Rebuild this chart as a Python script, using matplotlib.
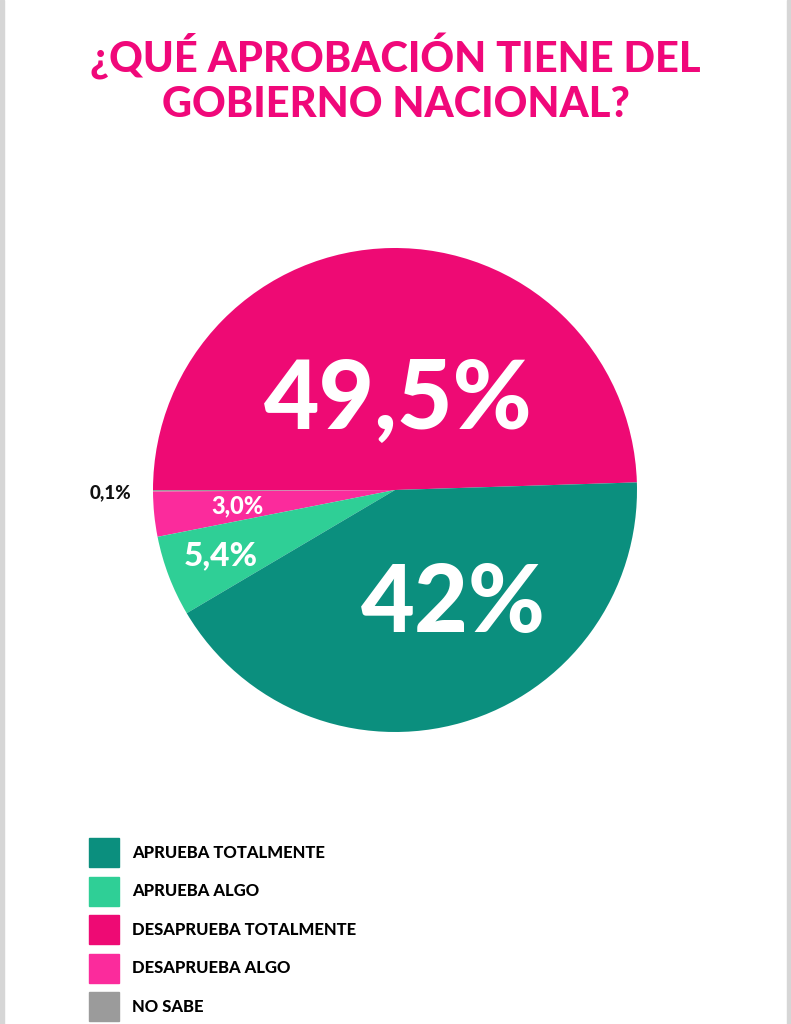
import matplotlib.pyplot as plt
from matplotlib.patches import Rectangle

# --- data ---
categories = ['APRUEBA TOTALMENTE', 'APRUEBA ALGO', 'DESAPRUEBA TOTALMENTE',
              'DESAPRUEBA ALGO', 'NO SABE']
values = [42.0, 5.4, 49.5, 3.0, 0.1]
value_labels = ['42%', '5,4%', '49,5%', '3,0%', '0,1%']
colors = ['#0b8f7e', '#2fcf96', '#ee0a74', '#fb2b9c', '#9b9b9b']
title_lines = ['¿QUÉ APROBACIÓN TIENE DEL', 'GOBIERNO NACIONAL?']

# order the slices are drawn (counter-clockwise from the right)
pie_order = [2, 4, 3, 1, 0]

FONT = ['Lato', 'DejaVu Sans']

fig = plt.figure(figsize=(7.91, 10.24), dpi=100)
fig.patch.set_facecolor('white')

# thin grey page edges
fig.patches.append(Rectangle((0, 0), 4 / 791, 1, transform=fig.transFigure,
                             color='#d6d6d6', zorder=0))
fig.patches.append(Rectangle((787 / 791, 0), 4 / 791, 1, transform=fig.transFigure,
                             color='#d6d6d6', zorder=0))

# title, two lines placed on their baselines
for line, base in zip(title_lines, [73, 117]):
    fig.text(0.5, 1 - base / 1024, line, ha='center', va='baseline',
             color='#f0087a', fontsize=30, fontweight='black', family=FONT)

# pie
ax = fig.add_axes([153 / 791, 292 / 1024, 484 / 791, 484 / 1024])
wedges, _ = ax.pie([values[i] for i in pie_order],
                   colors=[colors[i] for i in pie_order],
                   startangle=1.8, counterclock=True, radius=1,
                   wedgeprops=dict(linewidth=0))
ax.set_aspect('equal')
ax.set_xlim(-1, 1)
ax.set_ylim(-1, 1)
ax.axis('off')

# label placement (layout only), keyed by category index
label_pos = {2: (0.012, 0.37), 0: (0.24, -0.475), 3: (-0.653, -0.066),
             1: (-0.72, -0.273), 4: (-1.175, -0.012)}
label_size = {2: 69, 0: 67, 3: 17, 1: 24, 4: 13.5}
label_color = {2: 'white', 0: 'white', 3: 'white', 1: 'white', 4: '#111111'}
for i, (x, y) in label_pos.items():
    ax.text(x, y, value_labels[i], ha='center', va='center',
            fontsize=label_size[i], fontweight='black', color=label_color[i],
            family=FONT, clip_on=False)

# legend
handles = [Rectangle((0, 0), 1, 1, color=c) for c in colors]
leg = fig.legend(handles, categories, loc='upper left',
                 bbox_to_anchor=(89 / 791, 1 - 838 / 1024),
                 frameon=False, borderpad=0, borderaxespad=0,
                 handlelength=1.8, handleheight=2.32, handletextpad=0.8,
                 labelspacing=0.56, prop=dict(family=FONT, weight='black', size=12))

fig.savefig('out.png', dpi=100, facecolor='white')
